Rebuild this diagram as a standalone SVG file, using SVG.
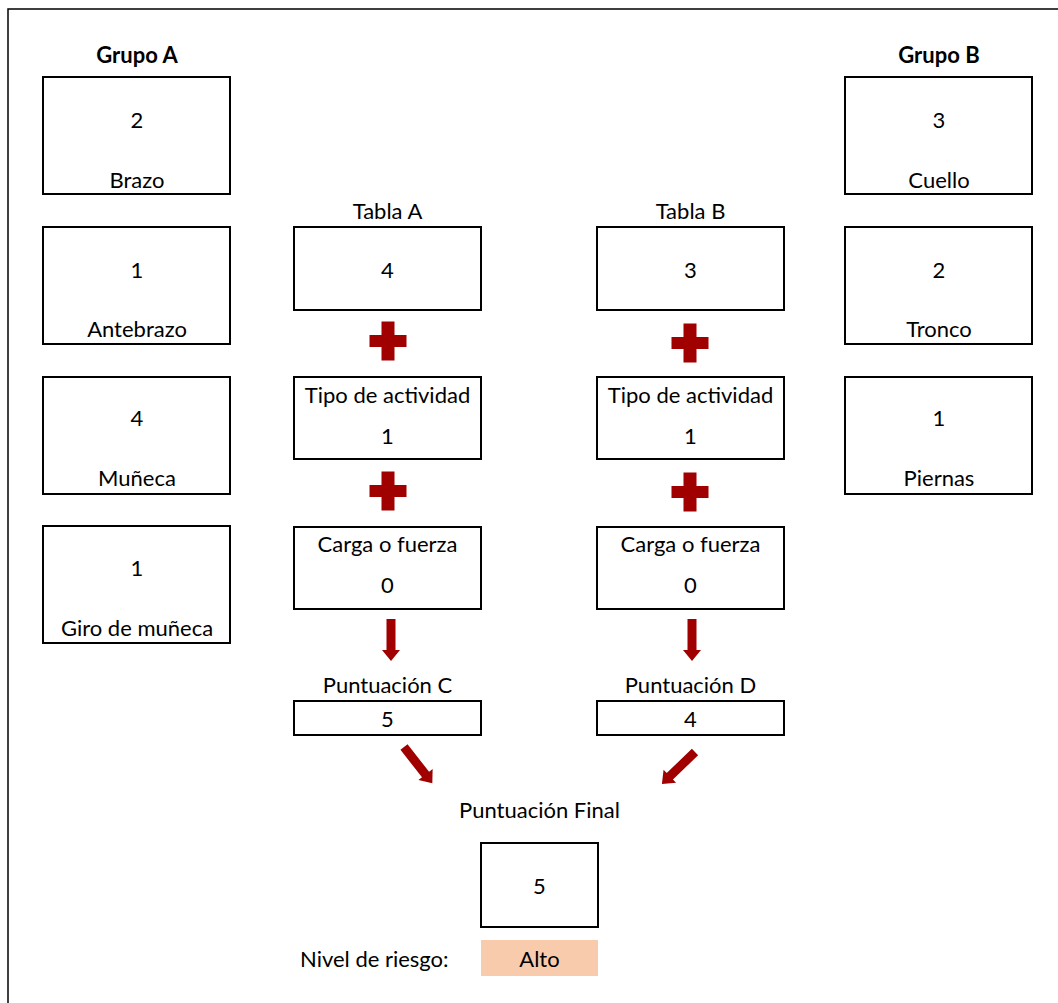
<svg xmlns="http://www.w3.org/2000/svg" width="1058" height="1003" viewBox="0 0 1058 1003">
<style>
text{font-family:Lato,"Liberation Sans",sans-serif;font-size:22px;fill:#000;text-anchor:middle}
.b{font-weight:bold}
.l{text-anchor:start}
.box{fill:#fff;stroke:#000;stroke-width:2}
.red{fill:#A00000}
</style>
<defs>
<path id="plus" d="M-6.5,-19.5h13v13.5h12v12h-12v13.5h-13v-13.5h-12v-12h12z"/>
<path id="down" d="M-4.5,0H4.5V31H9L0,42L-9,31H-4.5Z"/>
<path id="diag" d="M-4.5,0H4.5V35H9L0,46L-9,35H-4.5Z"/>
</defs>
<rect width="1058" height="1003" fill="#fff"/>
<rect x="8" y="9" width="1070" height="1020" fill="none" stroke="#000" stroke-width="1.5"/>

<text class="b" x="137" y="63">Grupo A</text>
<text class="b" x="939" y="63">Grupo B</text>

<g id="brazo"><rect class="box" x="43" y="77" width="187" height="117"/><text x="137" y="128">2</text><text x="137" y="188">Brazo</text></g>
<g id="antebrazo"><rect class="box" x="43" y="227" width="187" height="117"/><text x="137" y="278">1</text><text x="137" y="337">Antebrazo</text></g>
<g id="muneca"><rect class="box" x="43" y="377" width="187" height="117"/><text x="137" y="426">4</text><text x="137" y="486">Muñeca</text></g>
<g id="giro"><rect class="box" x="43" y="526" width="187" height="117"/><text x="137" y="576">1</text><text x="137" y="636">Giro de muñeca</text></g>

<g id="cuello"><rect class="box" x="845" y="77" width="187" height="117"/><text x="939" y="128">3</text><text x="939" y="188">Cuello</text></g>
<g id="tronco"><rect class="box" x="845" y="227" width="187" height="117"/><text x="939" y="278">2</text><text x="939" y="337">Tronco</text></g>
<g id="piernas"><rect class="box" x="845" y="377" width="187" height="117"/><text x="939" y="426">1</text><text x="939" y="486">Piernas</text></g>

<g id="tablaA"><text x="387.5" y="219">Tabla A</text><rect class="box" x="294" y="227" width="187" height="83"/><text x="387.5" y="278">4</text></g>
<g id="tipoA"><rect class="box" x="294" y="377" width="187" height="82"/><text x="387.5" y="403">Tipo de actividad</text><text x="387.5" y="444">1</text></g>
<g id="cargaA"><rect class="box" x="294" y="527" width="187" height="82"/><text x="387.5" y="552">Carga o fuerza</text><text x="387.5" y="593">0</text></g>
<g id="puntC"><text x="387.5" y="693">Puntuación C</text><rect class="box" x="294" y="701" width="187" height="34"/><text x="387.5" y="727">5</text></g>

<g id="tablaB"><text x="690.5" y="219">Tabla B</text><rect class="box" x="597" y="227" width="187" height="83"/><text x="690.5" y="278">3</text></g>
<g id="tipoB"><rect class="box" x="597" y="377" width="187" height="82"/><text x="690.5" y="403">Tipo de actividad</text><text x="690.5" y="444">1</text></g>
<g id="cargaB"><rect class="box" x="597" y="527" width="187" height="82"/><text x="690.5" y="552">Carga o fuerza</text><text x="690.5" y="593">0</text></g>
<g id="puntD"><text x="690.5" y="693">Puntuación D</text><rect class="box" x="597" y="701" width="187" height="34"/><text x="690.5" y="727">4</text></g>

<g id="final"><text x="539.5" y="818">Puntuación Final</text><rect class="box" x="481" y="843" width="117" height="84"/><text x="539.5" y="894">5</text></g>
<g id="riesgo"><text class="l" x="300" y="967">Nivel de riesgo:</text><rect x="481" y="940" width="117" height="36" fill="#F8CBAD"/><text x="539.5" y="967">Alto</text></g>

<g id="connectors" class="red">
<use href="#plus" x="388" y="341"/>
<use href="#plus" x="388" y="491"/>
<use href="#plus" x="690" y="343"/>
<use href="#plus" x="690" y="492"/>
<use href="#down" x="391" y="619"/>
<use href="#down" x="692" y="619"/>
<use href="#diag" transform="translate(404,747) rotate(-38)"/>
<use href="#diag" transform="translate(695,752) rotate(46)"/>
</g>
</svg>
